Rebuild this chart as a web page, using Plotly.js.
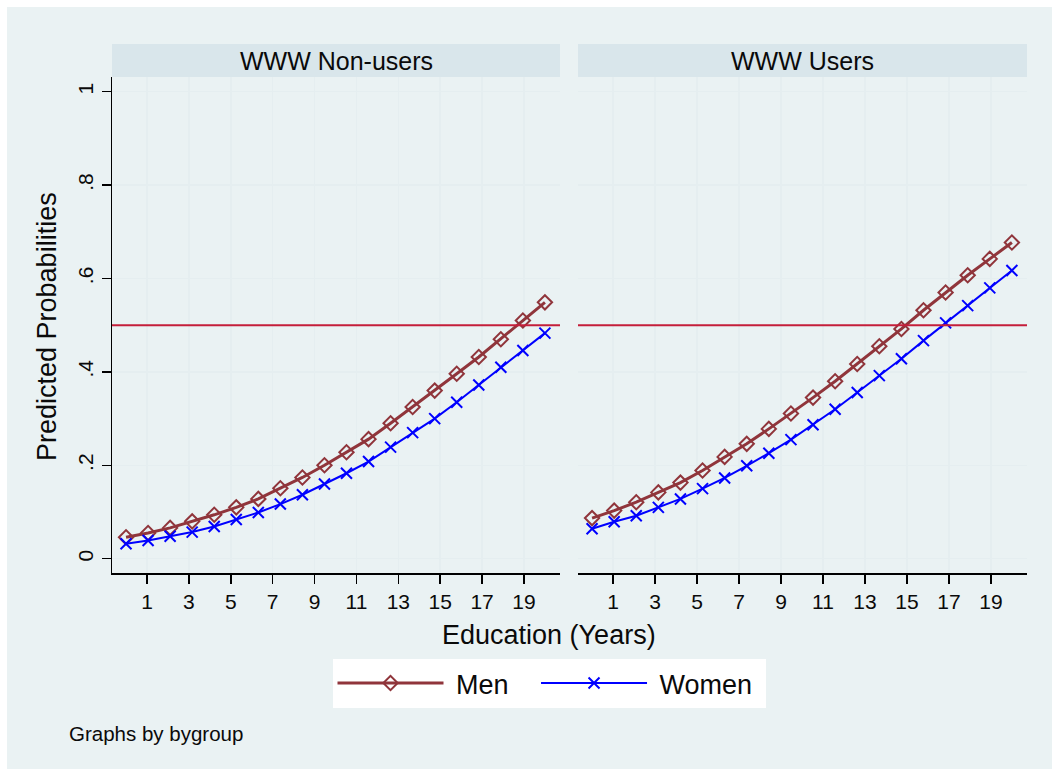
<!DOCTYPE html>
<html>
<head>
<meta charset="utf-8">
<script src="https://cdn.plot.ly/plotly-3.0.1.min.js"></script>
<style>html,body{margin:0;padding:0;background:#fff;}#chart{width:1052px;height:769px;}</style>
</head>
<body>
<div id="chart"></div>
<script>
// Education (years) grid: 20 evenly spaced points from 0 to 20
var education = [0, 1.053, 2.105, 3.158, 4.211, 5.263, 6.316, 7.368, 8.421, 9.474,
                 10.526, 11.579, 12.632, 13.684, 14.737, 15.789, 16.842, 17.895, 18.947, 20];

var panelNames = ["WWW Non-users", "WWW Users"];
var seriesNames = ["Men", "Women"];

var menNonUsers = [0.046, 0.055, 0.066, 0.080, 0.094, 0.110, 0.128, 0.151, 0.174, 0.200,
                   0.228, 0.256, 0.290, 0.325, 0.360, 0.396, 0.432, 0.470, 0.510, 0.549];
var womenNonUsers = [0.032, 0.039, 0.048, 0.057, 0.069, 0.084, 0.099, 0.117, 0.137, 0.160,
                     0.183, 0.208, 0.239, 0.270, 0.300, 0.335, 0.372, 0.410, 0.446, 0.483];
var menUsers = [0.087, 0.103, 0.121, 0.142, 0.163, 0.189, 0.218, 0.246, 0.278, 0.311,
                0.345, 0.380, 0.417, 0.455, 0.492, 0.532, 0.570, 0.607, 0.642, 0.677];
var womenUsers = [0.064, 0.079, 0.092, 0.110, 0.128, 0.150, 0.173, 0.199, 0.226, 0.255,
                  0.287, 0.320, 0.356, 0.392, 0.428, 0.467, 0.505, 0.542, 0.580, 0.617];

var refLine = 0.5;
var xTickVals = [1, 3, 5, 7, 9, 11, 13, 15, 17, 19];
var yTickVals = [0, 0.2, 0.4, 0.6, 0.8, 1];
var yTickText = ["0", ".2", ".4", ".6", ".8", "1"];

var FONT = "Liberation Sans, Arial, sans-serif";
var MEN = "#90353B", WOMEN = "#0000FF", REF = "#C41E3A";
var OUTER = "#EAF2F3", STRIP = "#D9E6EB", GRID = "#E5EEF0";
var TXT = "#0A0A0A";
var NB = "\u00A0";

function menTrace(y, xa, show) {
  return {x: education, y: y, xaxis: xa, yaxis: "y", type: "scatter", mode: "lines+markers",
    name: NB + seriesNames[0] + NB + NB + NB, showlegend: show, legendgroup: "m",
    line: {color: MEN, width: 3},
    marker: {symbol: "diamond-open", size: 11, color: MEN, line: {color: MEN, width: 2}}};
}
function womenTrace(y, xa, show) {
  return {x: education, y: y, xaxis: xa, yaxis: "y", type: "scatter", mode: "lines+markers",
    name: NB + seriesNames[1] + NB, showlegend: show, legendgroup: "w",
    line: {color: WOMEN, width: 2},
    marker: {symbol: "x-thin-open", size: 11, color: WOMEN, line: {color: WOMEN, width: 2}}};
}

var data = [
  menTrace(menNonUsers, "x", true),
  womenTrace(womenNonUsers, "x", true),
  menTrace(menUsers, "x2", false),
  womenTrace(womenUsers, "x2", false)
];

var W = 1052, H = 769;
function px(x) { return x / W; }
function py(y) { return 1 - y / H; }

var xCommon = {
  range: [-0.67, 20.72], tickvals: xTickVals, ticks: "outside", ticklen: 9, tickwidth: 1.5,
  tickcolor: "#000", showline: true, linecolor: "#000", linewidth: 1.5,
  showgrid: true, gridcolor: GRID, gridwidth: 1.5, zeroline: false,
  tickfont: {family: FONT, size: 21, color: TXT}, anchor: "y", fixedrange: true
};

var layout = {
  width: W, height: H,
  margin: {l: 0, r: 0, t: 0, b: 0},
  paper_bgcolor: "#FFFFFF",
  plot_bgcolor: "#FFFFFF",
  font: {family: FONT, color: TXT},
  showlegend: true,
  legend: {
    orientation: "h", x: px(549), xanchor: "center", y: py(659), yanchor: "top",
    bgcolor: "#FFFFFF", borderwidth: 0, itemwidth: 106,
    font: {family: FONT, size: 27, color: TXT}, traceorder: "normal"
  },
  xaxis: Object.assign({}, xCommon, {domain: [px(112), px(560)]}),
  xaxis2: Object.assign({}, xCommon, {domain: [px(578), px(1027)]}),
  yaxis: {
    domain: [py(573), py(77)], range: [-0.0306, 1.0315],
    tickvals: yTickVals, ticktext: yTickText, tickangle: -90,
    ticks: "outside", ticklen: 9, tickwidth: 1.5, tickcolor: "#000",
    showline: true, linecolor: "#000", linewidth: 1.5,
    showgrid: true, gridcolor: GRID, gridwidth: 1.5, zeroline: false,
    tickfont: {family: FONT, size: 21, color: TXT}, anchor: "x", fixedrange: true
  },
  shapes: [
    {type: "rect", xref: "paper", yref: "paper", x0: px(7), x1: 1, y0: 0, y1: py(7),
     fillcolor: OUTER, line: {width: 0}, layer: "below"},
    {type: "rect", xref: "paper", yref: "paper", x0: px(112), x1: px(560), y0: py(77), y1: py(44),
     fillcolor: STRIP, line: {width: 0}, layer: "below"},
    {type: "rect", xref: "paper", yref: "paper", x0: px(578), x1: px(1027), y0: py(77), y1: py(44),
     fillcolor: STRIP, line: {width: 0}, layer: "below"},
    {type: "line", xref: "x domain", yref: "y", x0: 0, x1: 1, y0: refLine, y1: refLine,
     line: {color: REF, width: 2}},
    {type: "line", xref: "x2 domain", yref: "y", x0: 0, x1: 1, y0: refLine, y1: refLine,
     line: {color: REF, width: 2}}
  ],
  annotations: [
    {text: panelNames[0], xref: "paper", yref: "paper", x: px(336), y: py(60.5),
     xanchor: "center", yanchor: "middle", showarrow: false, font: {family: FONT, size: 25, color: TXT}},
    {text: panelNames[1], xref: "paper", yref: "paper", x: px(802.5), y: py(60.5),
     xanchor: "center", yanchor: "middle", showarrow: false, font: {family: FONT, size: 25, color: TXT}},
    {text: "Education (Years)", xref: "paper", yref: "paper", x: px(548.5), y: py(635),
     xanchor: "center", yanchor: "middle", showarrow: false, font: {family: FONT, size: 27, color: TXT}},
    {text: "Predicted Probabilities", xref: "paper", yref: "paper", x: px(47), y: py(327),
     xanchor: "center", yanchor: "middle", textangle: -90, showarrow: false,
     font: {family: FONT, size: 27, color: TXT}},
    {text: "Graphs by bygroup", xref: "paper", yref: "paper", x: px(67), y: py(733),
     xanchor: "left", yanchor: "middle", showarrow: false, font: {family: FONT, size: 20.5, color: TXT}}
  ]
};

Plotly.newPlot("chart", data, layout, {displayModeBar: false, staticPlot: true});
</script>
</body>
</html>
